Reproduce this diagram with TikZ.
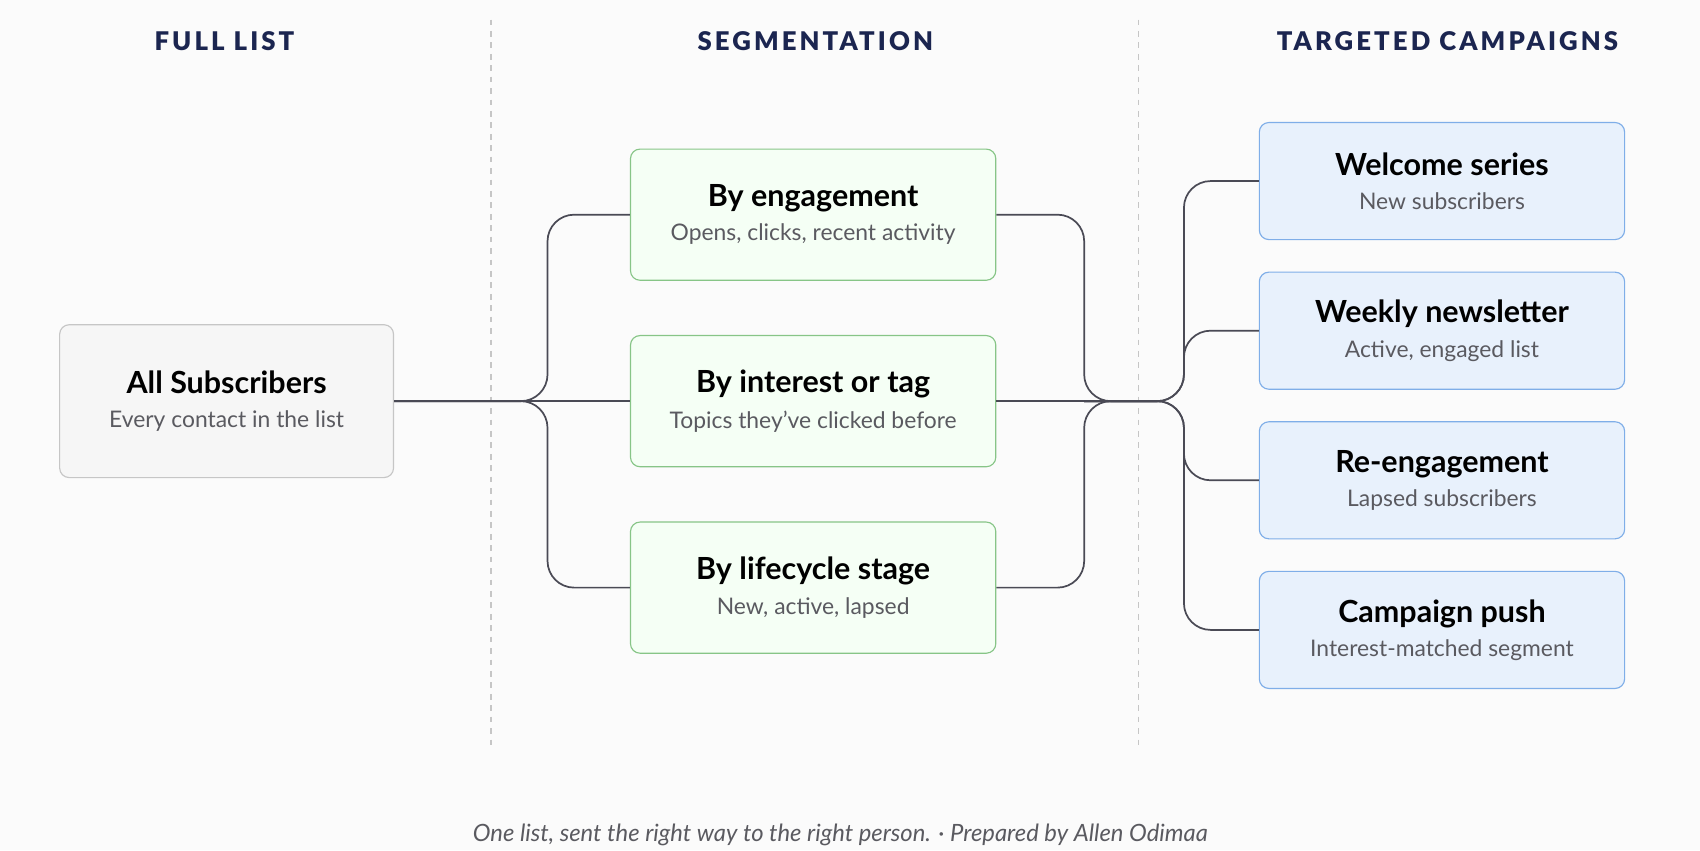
\documentclass[tikz,border=0pt]{standalone}
\usepackage{fontspec}
\setmainfont{Lato}
\newfontfamily\hdfont[LetterSpace=12]{Lato Black}
\usetikzlibrary{positioning}
\definecolor{navy}{HTML}{1B2550}
\definecolor{wire}{HTML}{4A4A55}
\definecolor{subtxt}{HTML}{5A5A60}
\definecolor{bluefill}{HTML}{E8F1FC}
\definecolor{blueline}{HTML}{7FAEE8}
\newcommand{\boxtxt}[2]{{\fontsize{16}{19}\selectfont\bfseries #1}\\[6pt]{\fontsize{12}{14}\selectfont\color{subtxt}#2}}

\begin{document}
\begin{tikzpicture}[x=0.02cm,y=-0.02cm,
    hd/.style={text=navy, font=\hdfont\fontsize{13.5}{16}\selectfont},
    card/.style={draw, rounded corners=5pt, align=center, inner sep=0pt, line width=.6pt},
    gry/.style={card, fill=gray!7, draw=gray!45, minimum width=6.16cm, minimum height=2.82cm},
    grn/.style={card, fill=green!4!white, draw=green!35!gray!70, minimum width=6.74cm, minimum height=2.42cm},
    blu/.style={card, fill=bluefill, draw=blueline, minimum width=6.74cm, minimum height=2.16cm},
    ln/.style={draw=wire, line width=.9pt, rounded corners=14pt}]

        \fill[white!97!gray] (0,0) rectangle (1568,784);
        \useasboundingbox (0,0) rectangle (1568,784);

        % headers and dividers
        \node (h1) at (207,38) [hd] {FULL LIST};
        \node (h2) at (752,38) [hd] {SEGMENTATION};
        \node (h3) at (1335,38) [hd] {TARGETED CAMPAIGNS};
        \draw[gray!45, dashed, line width=.8pt] (453,18) -- (453,690) (1050,18) -- (1050,690);

        % full list
        \node (all) at (209,370) [gry] {\boxtxt{All Subscribers}{Every contact in the list}};

        % segments
        \node (eng) at (750,198) [grn] {\boxtxt{By engagement}{Opens, clicks, recent activity}};
        \node (tag) at (750,370) [grn] {\boxtxt{By interest or tag}{Topics they’ve clicked before}};
        \node (life) at (750,542) [grn] {\boxtxt{By lifecycle stage}{New, active, lapsed}};

        % campaigns
        \node (wel) at (1330,167) [blu] {\boxtxt{Welcome series}{New subscribers}};
        \node (week) at (1330,305) [blu] {\boxtxt{Weekly newsletter}{Active, engaged list}};
        \node (re) at (1330,443) [blu] {\boxtxt{Re-engagement}{Lapsed subscribers}};
        \node (push) at (1330,581) [blu] {\boxtxt{Campaign push}{Interest-matched segment}};

        \coordinate (splitL) at (505,370);
        \coordinate (mergeR) at (1000,370);
        \coordinate (splitR) at (1092,370);

        \draw[ln] (all.east) -- (splitL) |- (eng.west);
        \draw[ln] (all.east) -- (splitL) |- (life.west);
        \draw[ln] (all.east) -- (tag.west);
        \draw[ln] (eng.east) -| (mergeR) -- (1070,370);
        \draw[ln] (life.east) -| (mergeR) -- (1070,370);
        \draw[ln] (tag.east) -- (1070,370);
        \draw[ln] (mergeR) -- (splitR) |- (wel.west);
        \draw[ln] (mergeR) -- (splitR) |- (week.west);
        \draw[ln] (mergeR) -- (splitR) |- (re.west);
        \draw[ln] (mergeR) -- (splitR) |- (push.west);

        \node (foot) at (775,770) [text=subtxt, font=\itshape\fontsize{12.5}{15}\selectfont] {One list, sent the right way to the right person. · Prepared by Allen Odimaa};

\end{tikzpicture}
\end{document}
